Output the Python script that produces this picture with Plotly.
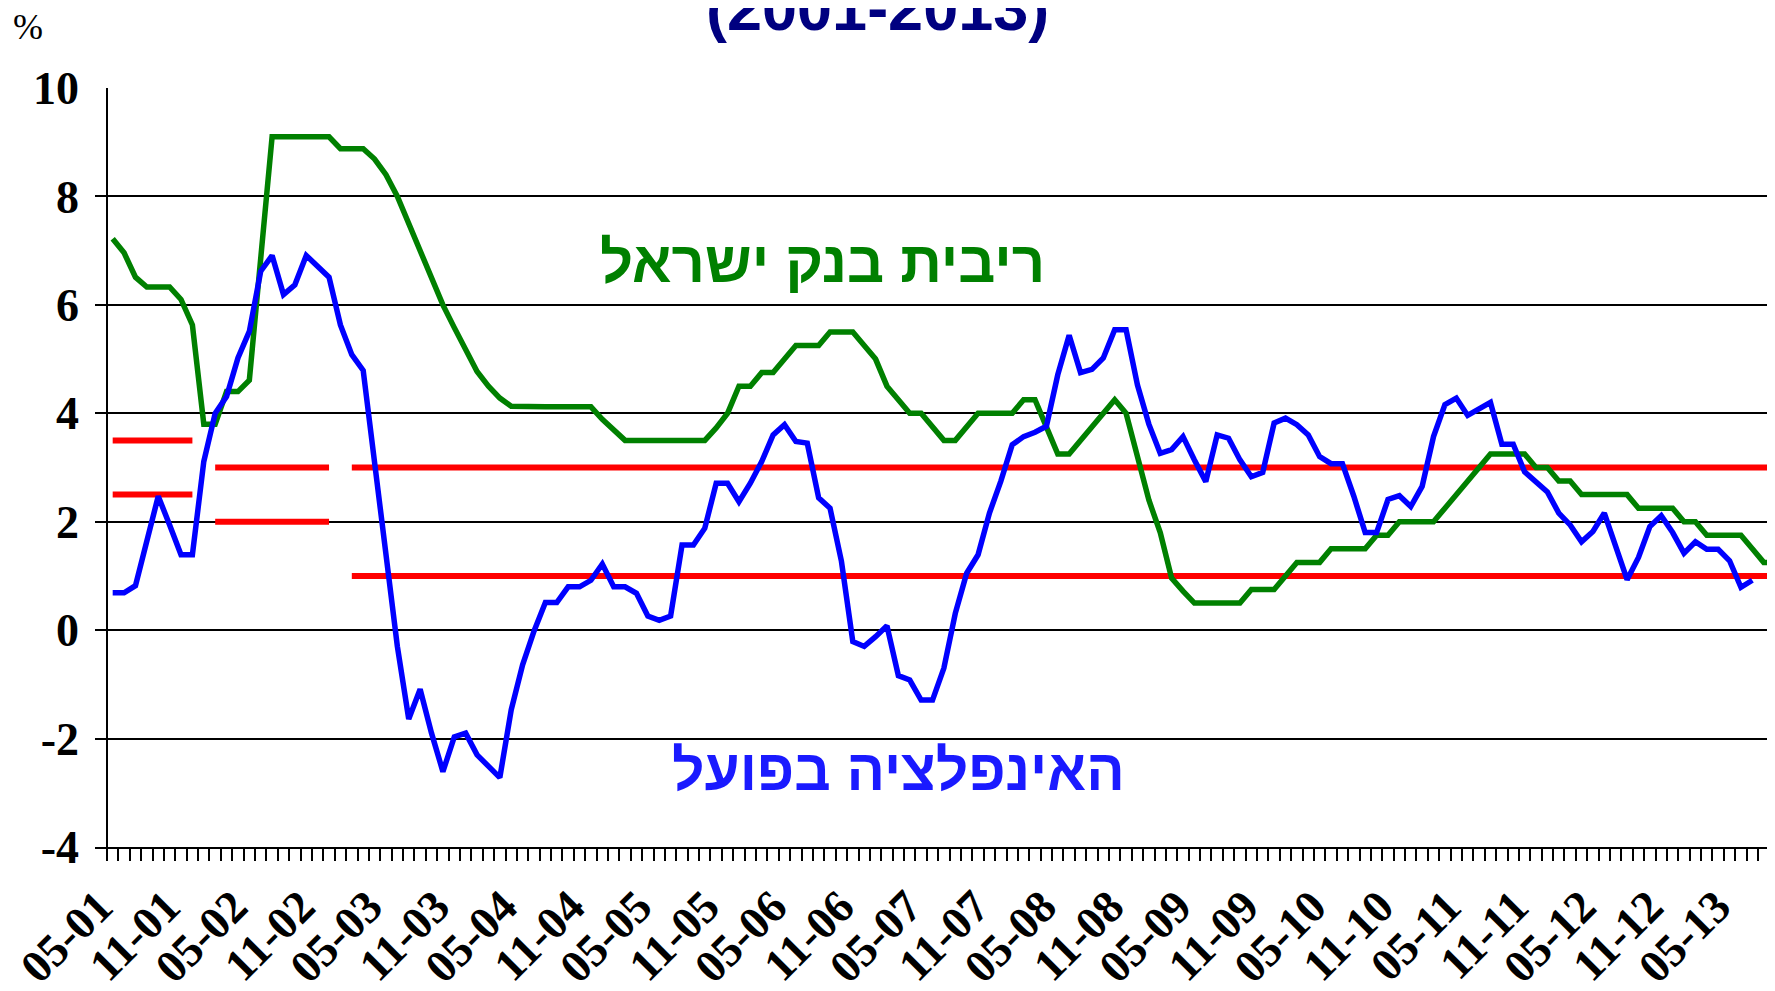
import plotly.graph_objects as go

# ---- categories: monthly, May 2001 onward ----
n_months = 147
months = [f"{(4 + i) % 12 + 1:02d}-{((2001 * 12 + 4 + i) // 12) % 100:02d}" for i in range(n_months)]
tick_idx = list(range(0, 145, 6))
tick_text = [months[i] for i in tick_idx]

# ---- Bank of Israel interest rate (%) ----
boi_rate = [
    7.22, 6.96, 6.51, 6.33, 6.33, 6.33, 6.10, 5.63, 3.80, 3.80,
    4.40, 4.40, 4.61, 6.80, 9.10, 9.10, 9.10, 9.10, 9.10, 9.10,
    8.88, 8.88, 8.88, 8.69, 8.40, 8.00, 7.50, 7.00, 6.50, 6.00,
    5.58, 5.20, 4.77, 4.50, 4.28, 4.13, 4.12, 4.12, 4.12, 4.12,
    4.12, 4.12, 4.12, 3.89, 3.71, 3.50, 3.50, 3.50, 3.50, 3.50,
    3.50, 3.50, 3.50, 3.73, 4.00, 4.50, 4.50, 4.75, 4.75, 5.00,
    5.25, 5.25, 5.25, 5.50, 5.50, 5.50, 5.25, 5.00, 4.50, 4.25,
    4.00, 4.00, 3.75, 3.50, 3.50, 3.75, 4.00, 4.00, 4.00, 4.00,
    4.25, 4.25, 3.75, 3.25, 3.25, 3.50, 3.75, 4.00, 4.25, 4.00,
    3.20, 2.40, 1.80, 0.96, 0.72, 0.50, 0.50, 0.50, 0.50, 0.50,
    0.75, 0.75, 0.75, 1.00, 1.25, 1.25, 1.25, 1.50, 1.50, 1.50,
    1.50, 1.75, 1.75, 2.00, 2.00, 2.00, 2.00, 2.25, 2.50, 2.75,
    3.00, 3.25, 3.25, 3.25, 3.25, 3.00, 3.00, 2.75, 2.75, 2.50,
    2.50, 2.50, 2.50, 2.50, 2.25, 2.25, 2.25, 2.25, 2.00, 2.00,
    1.75, 1.75, 1.75, 1.75, 1.50, 1.25, 1.25,
]

# ---- Actual inflation (%) ----
inflation = [
    0.69, 0.69, 0.82, 1.65, 2.47, 1.94, 1.39, 1.39, 3.11, 4.00,
    4.31, 5.02, 5.51, 6.62, 6.91, 6.19, 6.37, 6.91, 6.71, 6.51,
    5.63, 5.08, 4.79, 3.10, 1.30, -0.30, -1.64, -1.09, -1.90, -2.61,
    -1.97, -1.90, -2.30, -2.52, -2.72, -1.47, -0.64, -0.02, 0.51, 0.51,
    0.80, 0.80, 0.92, 1.22, 0.80, 0.80, 0.68, 0.26, 0.18, 0.26,
    1.57, 1.57, 1.88, 2.71, 2.71, 2.37, 2.71, 3.11, 3.60, 3.79,
    3.48, 3.45, 2.44, 2.25, 1.27, -0.21, -0.30, -0.12, 0.08, -0.84,
    -0.92, -1.29, -1.29, -0.70, 0.31, 1.05, 1.39, 2.16, 2.75, 3.42,
    3.57, 3.65, 3.76, 4.71, 5.44, 4.75, 4.81, 5.02, 5.54, 5.54,
    4.52, 3.80, 3.26, 3.33, 3.57, 3.14, 2.74, 3.60, 3.54, 3.14,
    2.83, 2.91, 3.82, 3.91, 3.79, 3.60, 3.20, 3.07, 3.07, 2.47,
    1.80, 1.80, 2.41, 2.48, 2.28, 2.65, 3.57, 4.16, 4.28, 3.96,
    4.07, 4.20, 3.43, 3.43, 2.92, 2.74, 2.55, 2.16, 1.94, 1.63,
    1.82, 2.16, 1.55, 0.93, 1.34, 1.91, 2.11, 1.80, 1.42, 1.63,
    1.49, 1.49, 1.28, 0.79, 0.92,
]

# ---- Inflation target range (upper / lower bounds) ----
target_upper = [3.5] * 8 + [None] + [3.0] * 11 + [None] + [3.0] * 126
target_lower = [2.5] * 8 + [None] + [2.0] * 11 + [None] + [1.0] * 126

y_ticks = [-4, -2, 0, 2, 4, 6, 8, 10]
y_tick_text = ["-4", "-2", "0", "2", "4", "6", "8", "10"]

# category i is centred at i + 0.5, so the category boundary 0 is the y-axis (x zeroline)
x_all = [i + 0.5 for i in range(n_months)]
# visual placement of the rotated month labels (slightly tighter than the category grid)
label_pos = [i + 0.5 - 1.2 - 1.9 * i / 144 for i in tick_idx]

fig = go.Figure()
for band in (target_upper, target_lower):
    fig.add_trace(go.Scatter(x=x_all, y=band, mode="lines", connectgaps=False,
                             line=dict(color="#ff0000", width=6), hoverinfo="skip"))
fig.add_trace(go.Scatter(x=x_all[:len(boi_rate)], y=boi_rate, mode="lines",
                         line=dict(color="#008000", width=5.5)))
fig.add_trace(go.Scatter(x=x_all[:len(inflation)], y=inflation, mode="lines",
                         line=dict(color="#0000ff", width=5.5)))

fig.add_annotation(x=62.8, y=6.8, xref="x", yref="y", text="<b>ריבית בנק ישראל</b>",
                   showarrow=False, font=dict(family="Liberation Sans, Arial", size=58, color="#008000"))
fig.add_annotation(x=69.5, y=-2.58, xref="x", yref="y", text="<b>האינפלציה בפועל</b>",
                   showarrow=False, font=dict(family="Liberation Sans, Arial", size=57, color="#1a1aff"))

# plot area: 95..1775 px wide (1680), 88..847 px tall (759)
fig.add_annotation(x=0.4655, y=1.056, xref="paper", yref="paper", text="<b>(2001-2013)</b>",
                   showarrow=False, xanchor="center", yanchor="bottom",
                   font=dict(family="Liberation Sans, Arial", size=63, color="#000080"))
fig.add_annotation(x=-0.0399, y=1.081, xref="paper", yref="paper", text="%",
                   showarrow=False, xanchor="center", yanchor="middle",
                   font=dict(family="Liberation Serif, Times New Roman", size=36, color="black"))

fig.update_layout(
    width=1767, height=983,
    margin=dict(l=87, r=0, t=80, b=144, autoexpand=False),
    paper_bgcolor="white", plot_bgcolor="white",
    showlegend=False,
    xaxis=dict(
        range=[-1.054, 146.49], showgrid=False,
        zeroline=True, zerolinecolor="black", zerolinewidth=2,
        showline=True, linecolor="black", linewidth=2,
        tickmode="array", tickvals=label_pos, ticktext=tick_text,
        ticks="", tickangle=-45, ticklabelstandoff=12,
        tickfont=dict(family="Liberation Serif, Times New Roman", size=46, color="black", weight="bold"),
        minor=dict(tickmode="array", tickvals=list(range(n_months + 1)),
                   ticks="outside", ticklen=12, tickwidth=2, tickcolor="black", showgrid=False),
        automargin=False,
    ),
    yaxis=dict(
        range=[-4, 10], tickmode="array", tickvals=y_ticks, ticktext=y_tick_text,
        showgrid=True, gridcolor="black", gridwidth=2, zeroline=False,
        showline=False, ticks="",
        ticklabelstandoff=15,
        tickfont=dict(family="Liberation Serif, Times New Roman", size=46, color="black", weight="bold"),
        automargin=False,
    ),
)

fig.write_html("out.html", config={"displayModeBar": False})
